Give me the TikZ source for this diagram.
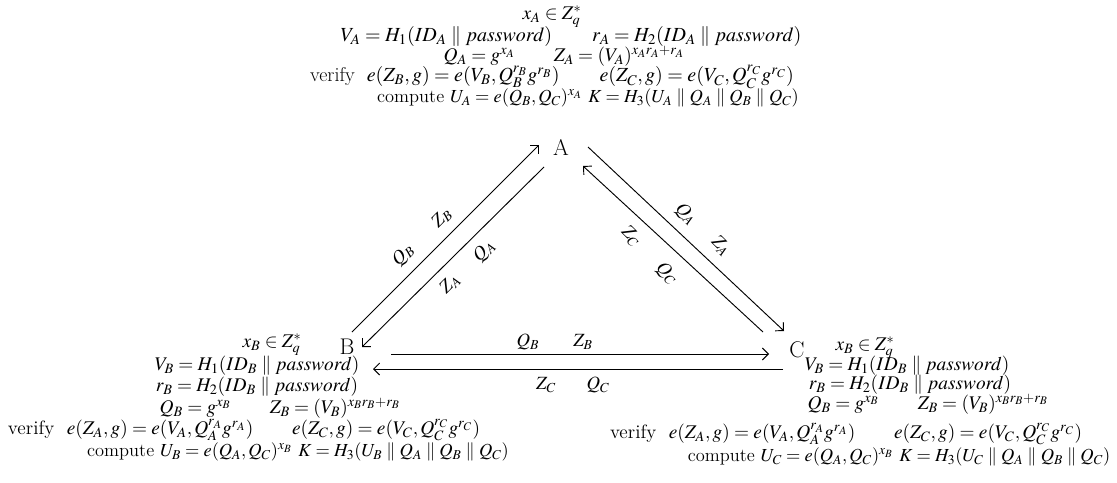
\documentclass[tikz,border=0pt]{standalone}
\usepackage{mathptmx}
\usetikzlibrary{arrows.meta}
\begin{document}
\begin{tikzpicture}[x=0.75pt,y=-0.75pt,
  txt/.style={inner sep=0pt, font=\fontsize{14.5}{16}\selectfont},
  wide/.style={inner sep=0pt, font=\fontsize{15}{16}\selectfont},
  cmp/.style={inner sep=0pt, font=\fontsize{13.8}{16}\selectfont},
  vtx/.style={inner sep=0pt, font=\fontsize{17}{19}\selectfont},
  lbl/.style={inner sep=0pt, font=\fontsize{14}{16}\selectfont},
  msg/.style={draw, line width=0.7pt, -{Straight Barb[length=4.5pt,width=9pt]}}]
\useasboundingbox (0,0) rectangle (1117,482);

% ---- party A
\node[txt] (a1) at (552,17) {$x_A \in Z_q^*$};
\node[wide] (a2) at (571,36) {$V_A = H_1(ID_A \parallel password) \qquad r_A = H_2(ID_A \parallel password)$};
\node[txt] (a3) at (564,56) {$Q_A = g^{x_A} \qquad Z_A = (V_A)^{x_A r_A + r_A}$};
\node[wide] (a4) at (552,77) {verify\ \ $e(Z_B, g) = e(V_B, Q_B^{r_B} g^{r_B}) \qquad e(Z_C, g) = e(V_C, Q_C^{r_C} g^{r_C})$};
\node[cmp] (a5) at (588,98) {compute $U_A = e(Q_B, Q_C)^{x_A}\ K = H_3(U_A \parallel Q_A \parallel Q_B \parallel Q_C)$};
\node[vtx] (A) at (561,147) {A};

% ---- party B
\node[vtx] (B) at (347,347) {B};
\node[txt] (b1) at (272,345) {$x_B \in Z_q^*$};
\node[txt] (b2) at (257,366) {$V_B = H_1(ID_B \parallel password)$};
\node[txt] (b3) at (257,387) {$r_B = H_2(ID_B \parallel password)$};
\node[txt] (b4) at (280,408) {$Q_B = g^{x_B} \qquad Z_B = (V_B)^{x_B r_B + r_B}$};
\node[txt] (b5) at (244,430) {verify\ \ $e(Z_A, g) = e(V_A, Q_A^{r_A} g^{r_A}) \qquad e(Z_C, g) = e(V_C, Q_C^{r_C} g^{r_C})$};
\node[cmp] (b6) at (298,452) {compute $U_B = e(Q_A, Q_C)^{x_B}\ K = H_3(U_B \parallel Q_A \parallel Q_B \parallel Q_C)$};

% ---- party C
\node[vtx] (C) at (797,350) {C};
\node[txt] (c1) at (865,348) {$x_B \in Z_q^*$};
\node[txt] (c2) at (907,366) {$V_B = H_1(ID_B \parallel password)$};
\node[txt] (c3) at (910,385) {$r_B = H_2(ID_B \parallel password)$};
\node[txt] (c4) at (928,404) {$Q_B = g^{x_B} \qquad Z_B = (V_B)^{x_B r_B + r_B}$};
\node[txt] (c5) at (846,434) {verify\ \ $e(Z_A, g) = e(V_A, Q_A^{r_A} g^{r_A}) \qquad e(Z_C, g) = e(V_C, Q_C^{r_C} g^{r_C})$};
\node[cmp] (c6) at (899,457) {compute $U_C = e(Q_A, Q_C)^{x_B}\ K = H_3(U_C \parallel Q_A \parallel Q_B \parallel Q_C)$};

% ---- connector end points
\coordinate (ba0) at (352,332);  \coordinate (ba1) at (539,145);
\coordinate (ab0) at (544,167);  \coordinate (ab1) at (362,347);
\coordinate (ac0) at (588,147);  \coordinate (ac1) at (784,331);
\coordinate (ca0) at (763,332);  \coordinate (ca1) at (583,166);
\coordinate (bc0) at (391,354);  \coordinate (bc1) at (769,354);
\coordinate (cb0) at (783,369);  \coordinate (cb1) at (373,369);

\draw[msg] (ba0) -- (ba1);
\draw[msg] (ab0) -- (ab1);
\draw[msg] (ac0) -- (ac1);
\draw[msg] (ca0) -- (ca1);
\draw[msg] (bc0) -- (bc1);
\draw[msg] (cb0) -- (cb1);

% ---- message labels
\node[lbl, rotate=45] (l1) at (403,255) {$Q_B$};
\node[lbl, rotate=45] (l2) at (442,218) {$Z_B$};
\node[lbl, rotate=45] (l3) at (484,251) {$Q_A$};
\node[lbl, rotate=45] (l4) at (450,284) {$Z_A$};
\node[lbl, rotate=-45] (l5) at (686,214) {$Q_A$};
\node[lbl, rotate=-45] (l6) at (721,246) {$Z_A$};
\node[lbl, rotate=-45] (l7) at (631,236) {$Z_C$};
\node[lbl, rotate=-45] (l8) at (667,273) {$Q_C$};
\node[lbl] (l9) at (528,342) {$Q_B$};
\node[lbl] (l10) at (583,342) {$Z_B$};
\node[lbl] (l11) at (546,385) {$Z_C$};
\node[lbl] (l12) at (598,385) {$Q_C$};
\end{tikzpicture}
\end{document}
